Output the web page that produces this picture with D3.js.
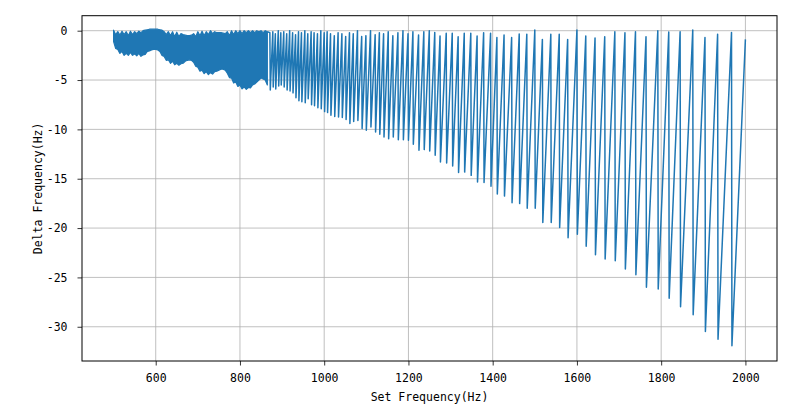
<!DOCTYPE html>
<html><head><meta charset="utf-8">
<script src="https://cdn.jsdelivr.net/npm/d3@7"></script>
<style>
body{margin:0;background:#fff;}
text{font-family:"DejaVu Sans Mono","Noto Sans CJK SC",monospace;fill:#000;}
</style></head>
<body><svg id="chart" width="800" height="409"></svg>
<script>
// ---- data ----
// dense region (500-865 Hz): upper and lower edge of the oscillation band
const bandFreq   = [500,505,510,515,520,525,530,535,540,545,550,555,560,565,570,575,580,585,590,595,600,605,610,615,620,625,630,635,640,645,650,655,660,665,670,675,680,685,690,695,700,705,710,715,720,725,730,735,740,745,750,755,760,765,770,775,780,785,790,795,800,805,810,815,820,825,830,835,840,845,850,855,860,865];
const bandTop    = [0.05,-0.4,-0.1,-0.45,-0.05,-0.4,-0.1,-0.5,-0.05,-0.4,-0.1,-0.3,-0.05,-0.2,0,0.05,0.1,0.15,0.15,0.15,0.15,0.15,0.1,0.05,-0.1,-0.4,-0.1,-0.5,-0.1,-0.6,-0.15,-0.6,-0.3,-0.4,-0.45,-0.5,-0.5,-0.45,-0.3,-0.6,-0.1,-0.5,-0.05,-0.5,-0.1,-0.4,0,-0.3,-0.1,-0.2,-0.2,-0.2,-0.25,-0.3,-0.1,-0.5,0,-0.4,0,-0.3,0,-0.3,0,-0.2,0,-0.2,0,-0.2,0,-0.1,0,-0.2,0,-0.1];
const bandBottom = [-1.1,-1.8,-1.9,-2.3,-2.1,-2.5,-2.3,-2.5,-2.2,-2.5,-2.35,-2.55,-2.3,-2.6,-2.45,-2.4,-2.1,-2.05,-1.95,-1.9,-1.9,-1.95,-2.1,-2.5,-2.6,-3.0,-2.95,-3.3,-3.1,-3.45,-3.3,-3.5,-3.35,-3.3,-3.1,-3.0,-2.95,-3.0,-3.2,-3.6,-3.7,-4.1,-4.0,-4.35,-4.15,-4.45,-4.25,-4.4,-4.15,-4.1,-4.0,-3.9,-3.9,-4.0,-4.3,-4.75,-4.8,-5.3,-5.2,-5.65,-5.5,-5.9,-5.7,-5.95,-5.75,-5.8,-5.5,-5.4,-5.2,-5.0,-4.8,-4.9,-5.0,-5.5];
// sawtooth teeth: frequency where the value drops, value just before the drop, value just after
const toothFreq = [872,879,885,892,898,905,912,919,926,933,940,947,955,962,970,977,985,993,1001,1008,
  1016,1025,1034,1043,1052,1061,1070,1080,1090,1100,1111,1122,1132,1142,1153,1164,1176,1188,1200,
  1211.6,1225,1237.5,1250.5,1263.5,1276,1290.7,1305,1319,1333.5,1349,1364,1379.5,1396,1411,1428,1446,1464,1482,1501,
  1519,1539,1559,1579,1601,1622,1644,1667,1691,1715,1740,1765,1793,1819,1846,1876,1905,1935,1968];
const toothTop = [-0.2,-0.1,-0.3,0,-0.2,-0.1,-0.3,0,-0.2,-0.4,-0.1,-0.2,0,-0.3,-0.1,-0.2,-0.3,0,-0.2,-0.1,
  -0.3,-0.5,-0.2,-0.3,-0.6,-0.2,-0.3,0,-0.6,-0.5,0,-0.4,-0.2,-0.3,-0.1,-0.5,-0.2,0,-0.3,
  -0.1,-0.44,-0.1,0,-0.17,-0.54,-0.27,-0.27,-0.61,-0.27,-0.27,-0.54,-0.2,-0.27,-0.68,-0.44,-0.68,-0.34,-0.37,0.07,
  -0.88,-0.37,-0.37,-0.88,0.07,-0.54,-0.74,-0.61,-0.1,-0.2,-0.1,-0.61,0,-0.14,-0.1,0.07,-0.68,-0.37,-0.17];
const toothBottom = [-6.0,-5.7,-5.9,-5.6,-5.5,-5.7,-6.0,-6.1,-6.3,-6.8,-7.1,-7.2,-7.3,-6.9,-7.5,-7.6,-7.8,-7.9,-8.2,-8.3,
  -8.57,-8.7,-8.74,-8.8,-9.0,-9.41,-9.2,-9.1,-9.92,-10.09,-9.75,-10.26,-10.5,-10.77,-10.94,-10.77,-11.04,-11.04,-11.11,
  -11.51,-12.12,-12.05,-12.19,-12.63,-13.3,-13.4,-13.7,-14.37,-14.33,-14.66,-15.34,-15.37,-15.75,-16.55,-16.76,-17.44,-17.52,-18.0,-18.0,
  -19.43,-19.43,-19.94,-20.98,-20.62,-21.84,-22.7,-23.14,-23.3,-24.14,-24.72,-26.0,-26.18,-27.1,-27.97,-28.78,-30.48,-31.26,-31.93];
const endFreq = 2000, endDelta = -0.88;
const xTicks = [600,800,1000,1200,1400,1600,1800,2000];
const yTicks = [0,-5,-10,-15,-20,-25,-30];

// ---- layout ----
const svg = d3.select("#chart");
const L = 82, R = 777, T = 15.7, B = 361;
const x = d3.scaleLinear().domain([425, 2075]).range([L, R]);
const y = d3.scaleLinear().domain([-33.47, 1.52]).range([B, T]);
const color = "#1f77b4";

// grid
const g = svg.append("g");
g.selectAll(".vg").data(xTicks).join("line")
  .attr("x1", d => x(d)).attr("x2", d => x(d)).attr("y1", T).attr("y2", B)
  .attr("stroke", "#b0b0b0").attr("stroke-width", 0.8);
g.selectAll(".hg").data(yTicks).join("line")
  .attr("x1", L).attr("x2", R).attr("y1", d => y(d)).attr("y2", d => y(d))
  .attr("stroke", "#b0b0b0").attr("stroke-width", 0.8);

// clip
svg.append("clipPath").attr("id", "clip").append("rect")
  .attr("x", L).attr("y", T).attr("width", R - L).attr("height", B - T);
const plot = svg.append("g").attr("clip-path", "url(#clip)");

// band
const band = bandFreq.map((f, i) => ({f, t: bandTop[i], b: bandBottom[i]}));
plot.append("path").datum(band)
  .attr("d", d3.area().x(d => x(d.f)).y0(d => y(d.b)).y1(d => y(d.t)))
  .attr("fill", color).attr("stroke", color).attr("stroke-width", 1.2).attr("stroke-linejoin", "round");

// sawtooth line
const pts = [[bandFreq[bandFreq.length - 1], bandTop[bandTop.length - 1]]];
toothFreq.forEach((f, i) => { pts.push([f - 1, toothTop[i]]); pts.push([f, toothBottom[i]]); });
pts.push([endFreq, endDelta]);
plot.append("path").datum(pts)
  .attr("d", d3.line().x(d => x(d[0])).y(d => y(d[1])))
  .attr("fill", "none").attr("stroke", color).attr("stroke-width", 1.5).attr("stroke-linejoin", "round");

// axes
const xAxis = d3.axisBottom(x).tickValues(xTicks).tickSize(4.5).tickPadding(8).tickFormat(d3.format("d"));
const yAxis = d3.axisLeft(y).tickValues(yTicks).tickSize(4.5).tickPadding(10).tickFormat(d => d3.format("d")(d).replace("−", "-"));
const gx = svg.append("g").attr("transform", `translate(0,${B})`).call(xAxis);
const gy = svg.append("g").attr("transform", `translate(${L},0)`).call(yAxis);
[gx, gy].forEach(a => {
  a.select(".domain").remove();
  a.selectAll("line").attr("stroke", "#000").attr("stroke-width", 0.8);
  a.selectAll("text").style("font-size", "11.5px").style("font-family", '"DejaVu Sans Mono", monospace');
});
svg.append("rect").attr("x", L).attr("y", T).attr("width", R - L).attr("height", B - T)
  .attr("fill", "none").attr("stroke", "#000").attr("stroke-width", 1);

svg.append("text").attr("x", (L + R) / 2).attr("y", 401).attr("text-anchor", "middle")
  .style("font-size", "11.5px").text("Set Frequency(Hz)");
svg.append("text").attr("transform", `translate(42,${(T + B) / 2}) rotate(-90)`).attr("text-anchor", "middle")
  .style("font-size", "11.5px").text("Delta Frequency(Hz)");
</script></body></html>
